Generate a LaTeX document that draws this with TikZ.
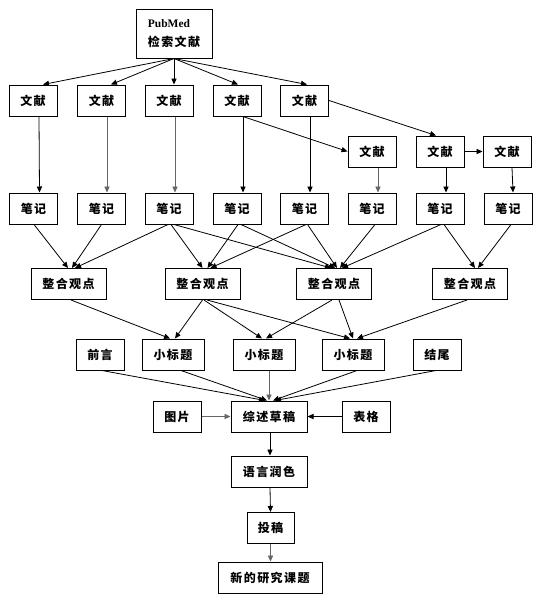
\documentclass[tikz,border=0pt]{standalone}
\usepackage{fontspec}
\setmainfont{Liberation Serif}
\newfontfamily\cjk[LetterSpace=12]{Noto Sans CJK SC}
\usetikzlibrary{arrows.meta,calc}
\tikzset{
  box/.style={draw, line width=1pt, minimum width=48pt, minimum height=31pt, inner sep=0pt,
    font={\cjk\bfseries\fontsize{12pt}{14pt}\selectfont}},
  arr/.style={-{Triangle[length=6pt,width=5.2pt]}, line width=0.8pt, draw=black},
  garr/.style={arr, draw=black!60},
}
\begin{document}
\begin{tikzpicture}[x=1pt,y=-1pt]
\useasboundingbox[fill=white] (0,0) rectangle (558,614);
% top
\node[box,minimum width=76pt,minimum height=49pt,align=left,
  font={\cjk\bfseries\fontsize{12pt}{19pt}\selectfont}] (pub) at (174,33.5)
  {{\rmfamily\bfseries\fontsize{11.5pt}{19pt}\selectfont PubMed}\\检索文献};
% row 1 literature
\node[box] (w1) at (33,100.5) {文献};
\node[box] (w2) at (101.5,100.5) {文献};
\node[box] (w3) at (169,100.5) {文献};
\node[box] (w4) at (237,100.5) {文献};
\node[box] (w5) at (304.5,100.5) {文献};
% row 2 literature
\node[box] (r1) at (372,151.5) {文献};
\node[box] (r2) at (440,151.5) {文献};
\node[box] (r3) at (507,151.5) {文献};
% notes
\node[box] (n1) at (33.5,208.5) {笔记};
\node[box] (n2) at (101.5,208.5) {笔记};
\node[box] (n3) at (169,208.5) {笔记};
\node[box] (n4) at (237,208.5) {笔记};
\node[box] (n5) at (304.5,208.5) {笔记};
\node[box] (n6) at (372,208.5) {笔记};
\node[box] (n7) at (440,208.5) {笔记};
\node[box] (n8) at (508,208.5) {笔记};
% integration
\node[box,minimum width=75pt] (g1) at (68.5,284) {整合观点};
\node[box,minimum width=75pt] (g2) at (202.5,284) {整合观点};
\node[box,minimum width=75pt] (g3) at (334,284) {整合观点};
\node[box,minimum width=75pt] (g4) at (470,284) {整合观点};
% sections
\node[box] (q) at (100,354.5) {前言};
\node[box,minimum width=62pt] (s1) at (173,354.5) {小标题};
\node[box,minimum width=62pt] (s2) at (264,354.5) {小标题};
\node[box,minimum width=62pt] (s3) at (353,354.5) {小标题};
\node[box] (e) at (437,354.5) {结尾};
% draft
\node[box,minimum width=76pt] (c) at (269,416.5) {综述草稿};
\node[box] (pic) at (177,416.5) {图片};
\node[box] (tab) at (366,416.5) {表格};
\node[box,minimum width=76pt] (lang) at (269,471.5) {语言润色};
\node[box,minimum width=47pt] (sub) at (270.5,528) {投稿};
\node[box,minimum width=104pt] (new) at (270,577.5) {新的研究课题};

% pubmed -> row1
\draw[arr] (pub.south) -- ([xshift=10pt]w1.north);
\draw[arr] (pub.south) -- ([xshift=9.5pt]w2.north);
\draw[arr] (pub.south) -- ([xshift=5pt]w3.north);
\draw[arr] (pub.south) -- ([xshift=1pt]w4.north);
\draw[arr] (pub.south) -- ([xshift=2.5pt]w5.north);
% row1 -> notes
\draw[arr]  ([xshift=6pt]w1.south) -- ([xshift=6pt]n1.north);
\draw[garr] ([xshift=5.5pt]w2.south) -- ([xshift=5.5pt]n2.north);
\draw[garr] ([xshift=6pt]w3.south) -- ([xshift=6pt]n3.north);
\draw[arr]  ([xshift=6pt]w4.south) -- ([xshift=6pt]n4.north);
\draw[arr]  ([xshift=5.5pt]w5.south) -- ([xshift=5.5pt]n5.north);
% row1 -> row2
\draw[arr] ([xshift=6pt]w4.south) -- (r1.west);
\draw[arr] (w5.east) -- ([xshift=-4pt]r2.north);
\draw[arr] (r2.east) -- (r3.west);
% row2 -> notes
\draw[garr] ([xshift=6pt]r1.south) -- ([xshift=6pt]n6.north);
\draw[arr]  ([xshift=6pt]r2.south) -- ([xshift=6pt]n7.north);
\draw[arr]  ([xshift=5pt]r3.south) -- ([xshift=5pt]n8.north);
% notes -> integration
\draw[arr] ([xshift=0.5pt]n1.south) -- ([xshift=-0.5pt]g1.north);
\draw[arr] (n2.south) -- ([xshift=3.5pt]g1.north);
\draw[arr] ([xshift=-1pt]n3.south) -- ([xshift=6.5pt]g1.north);
\draw[arr] ([xshift=2pt]n3.south) -- (g2.north);
\draw[arr] ([xshift=5pt]n3.south) -- ([xshift=-3pt]g3.north);
\draw[arr] ([xshift=1pt]n4.south) -- ([xshift=5pt]g2.north);
\draw[arr] ([xshift=4pt]n4.south) -- ([xshift=1pt]g3.north);
\draw[arr] ([xshift=1.5pt]n5.south) -- ([xshift=8pt]g2.north);
\draw[arr] ([xshift=3pt]n5.south) -- ([xshift=3pt]g3.north);
\draw[arr] ([xshift=3pt]n6.south) -- ([xshift=6pt]g3.north);
\draw[arr] ([xshift=1pt]n7.south) -- ([xshift=8pt]g3.north);
\draw[arr] ([xshift=4pt]n7.south) -- ([xshift=5pt]g4.north);
\draw[arr] ([xshift=3pt]n8.south) -- ([xshift=8pt]g4.north);
% integration -> sections
\draw[arr] ([xshift=2.5pt]g1.south) -- ([xshift=-3pt]s1.north);
\draw[arr] (g2.south) -- ([xshift=2pt]s1.north);
\draw[arr] ([xshift=1.5pt]g2.south) -- ([xshift=-2pt]s2.north);
\draw[arr] ([xshift=4.5pt]g2.south) -- ([xshift=-3pt]s3.north);
\draw[arr] ([xshift=-2pt]g3.south) -- ([xshift=2pt]s2.north);
\draw[arr] ([xshift=5pt]g3.south) -- (s3.north);
\draw[arr] ([xshift=-3pt]g4.south) -- ([xshift=4pt]s3.north);
% sections -> draft
\draw[arr] ([xshift=2pt]q.south) -- ([xshift=-4pt]c.north);
\draw[arr] ([xshift=8pt]s1.south) -- ([xshift=-2pt]c.north);
\draw[garr] ([xshift=5pt]s2.south) -- (c.north);
\draw[arr] ([xshift=4pt]s3.south) -- ([xshift=4pt]c.north);
\draw[arr] ([xshift=-1pt]e.south) -- ([xshift=6pt]c.north);
% side inputs
\draw[garr] (pic.east) -- (c.west);
\draw[arr] (tab.west) -- (c.east);
% final chain
\draw[arr] ([xshift=1pt]c.south) -- ([xshift=1pt]lang.north);
\draw[arr] ([xshift=1pt]lang.south) -- (sub.north);
\draw[garr] (sub.south) -- ([xshift=0.5pt]new.north);
\end{tikzpicture}
\end{document}
